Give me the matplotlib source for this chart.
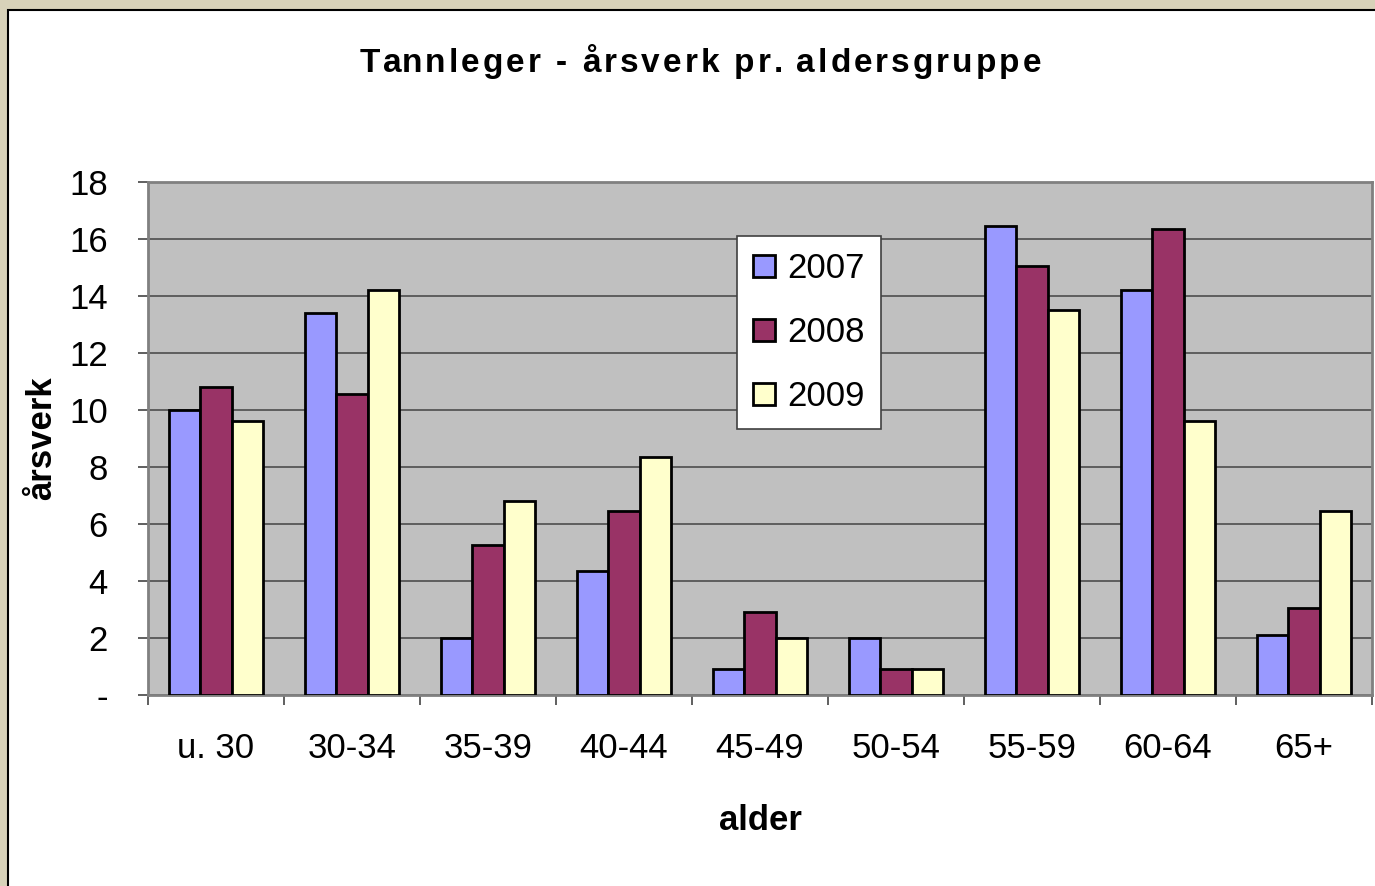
import numpy as np
import matplotlib.pyplot as plt
from matplotlib.patches import Rectangle

plt.rcParams['font.family'] = ['Liberation Sans', 'DejaVu Sans']

# Data
categories = ['u. 30', '30-34', '35-39', '40-44', '45-49', '50-54', '55-59', '60-64', '65+']
years = ['2007', '2008', '2009']
v2007 = [10.0, 13.4, 2.0, 4.35, 0.9, 2.0, 16.45, 14.2, 2.1]
v2008 = [10.8, 10.55, 5.25, 6.45, 2.9, 0.9, 15.05, 16.35, 3.05]
v2009 = [9.6, 14.2, 6.8, 8.35, 2.0, 0.9, 13.5, 9.6, 6.45]
yticks = [0, 2, 4, 6, 8, 10, 12, 14, 16, 18]
ytick_labels = ['-', '2', '4', '6', '8', '10', '12', '14', '16', '18']
title = 'Tannleger - årsverk pr. aldersgruppe'

colors = ['#9999FF', '#993366', '#FFFFCC']

W, H = 1375, 886
fig = plt.figure(figsize=(W / 100, H / 100), dpi=100, facecolor='#D8D2B9')

# white chart area with black border
fig.patches.append(Rectangle((8 / W, -0.01), 1.02, (H - 10) / H + 0.01,
                             transform=fig.transFigure, facecolor='white',
                             edgecolor='black', linewidth=1.5, zorder=-5))

ax = fig.add_axes([148 / W, (H - 695) / H, 1224 / W, 513 / H])
ax.set_facecolor('#C0C0C0')

x = np.arange(len(categories))
bw = 0.228
for i, (vals, lab) in enumerate(zip([v2007, v2008, v2009], years)):
    ax.bar(x + (i - 1) * bw, vals, bw, color=colors[i], edgecolor='black',
           linewidth=2.0, label=lab, zorder=3)

ax.set_xlim(-0.5, len(categories) - 0.5)
ax.set_ylim(0, 18)
ax.set_yticks(yticks)
ax.set_yticklabels(ytick_labels, fontsize=25)
ax.yaxis.grid(True, color='#4D4D4D', linewidth=1.2, zorder=1)
ax.set_axisbelow(True)

# category boundary ticks and centred labels
ax.set_xticks(np.arange(-0.5, len(categories), 1.0))
ax.set_xticklabels([])
ax.set_xticks(x, minor=True)
ax.set_xticklabels(categories, minor=True, fontsize=25)
ax.tick_params(axis='x', which='major', direction='out', length=7, width=1.2, color='#444444')
ax.tick_params(axis='x', which='minor', length=0, pad=27)
ax.tick_params(axis='y', direction='out', length=7, width=1.2, color='#444444', pad=22)

for side in ['top', 'right', 'left', 'bottom']:
    ax.spines[side].set_color('#808080')
    ax.spines[side].set_linewidth(2)

ax.set_xlabel('alder', fontsize=25, fontweight='bold', labelpad=28)
ax.set_ylabel('årsverk', fontsize=25, fontweight='bold', labelpad=8)

leg = ax.legend(loc='upper left', bbox_to_anchor=((737 - 148) / 1224, (695 - 236) / 513),
                fontsize=25, frameon=True, fancybox=False, borderpad=0.47,
                labelspacing=0.89, handlelength=0.62, handleheight=0.62,
                handletextpad=0.35, borderaxespad=0)
leg.get_frame().set_edgecolor('#404040')
leg.get_frame().set_linewidth(1.2)
leg.get_frame().set_facecolor('white')
leg.get_frame().set_alpha(1)
leg.set_zorder(5)

# title with extra letter spacing, drawn character by character
fig.canvas.draw()
renderer = fig.canvas.get_renderer()
tsize, spacing = 24, 3.0
probe = fig.text(0, 0, title, fontsize=tsize, fontweight='bold')
widths = [0.0]
for k in range(1, len(title) + 1):
    probe.set_text(title[:k])
    widths.append(probe.get_window_extent(renderer).width)
probe.remove()
total = widths[-1] + spacing * (len(title) - 1)
x0 = 700 - total / 2
for k, ch in enumerate(title):
    px = x0 + widths[k] + spacing * k
    fig.text(px / W, 1 - 60 / H, ch, ha='left', va='center_baseline',
             fontsize=tsize, fontweight='bold')

plt.savefig('out.png', dpi=100, facecolor=fig.get_facecolor())
